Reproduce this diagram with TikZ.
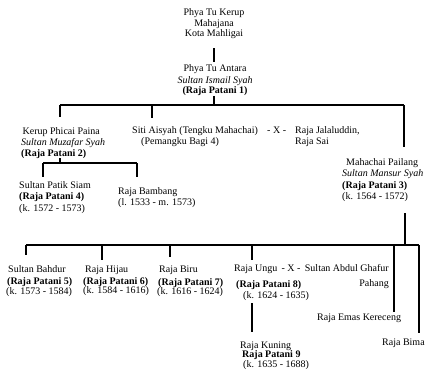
\documentclass[tikz,border=0pt]{standalone}
\usepackage{fontspec}
\setmainfont{Liberation Serif}
\usepackage{tikz}
\pgfdeclarelayer{nodelayer}
\pgfdeclarelayer{edgelayer}
\pgfsetlayers{edgelayer,nodelayer,main}
\tikzstyle{person}=[inner sep=0pt, align=left, anchor=north west]
\tikzstyle{person centre}=[inner sep=0pt, align=center, anchor=north]
\tikzstyle{descent edge}=[draw=black, line width=1.1pt]
\begin{document}
\begin{tikzpicture}[x=1pt, y=-1pt, font=\fontsize{10}{10.5}\selectfont]
	\useasboundingbox (0,0) rectangle (428,373);
	\begin{pgfonlayer}{nodelayer}
		\node [style=person centre] (kerup) at (214, 8.5) {Phya Tu Kerup\\Mahajana\\Kota Mahligai};
		\node [style=person centre] (antara) at (215, 64.5) {Phya Tu Antara\\[1pt]\textit{Sultan Ismail Syah}\\\textbf{(Raja Patani 1)}};
		\node [style=person] (phicai) at (21, 127.5) {\hspace{1.5pt}Kerup Phicai Paina\\\textit{Sultan Muzafar Syah}\\[0.5pt]\textbf{(Raja Patani 2)}};
		\node [style=person] (aisyah) at (132, 126.5) {Siti Aisyah (Tengku Mahachai)\\\hspace{9pt}(Pemangku Bagi 4)};
		\node [style=person] (xone) at (267, 126.5) {- X -};
		\node [style=person] (jalal) at (295, 126.5) {Raja Jalaluddin,\\Raja Sai};
		\node [style=person] (mansur) at (342, 158.5) {\hspace{4pt}Mahachai Pailang\\\textit{Sultan Mansur Syah}\\[2pt]\textbf{(Raja Patani 3)}\\(k. 1564 - 1572)};
		\node [style=person] (patik) at (19, 181.5) {Sultan Patik Siam\\\textbf{(Raja Patani 4)}\\[1.5pt](k. 1572 - 1573)};
		\node [style=person] (bambang) at (118, 187.5) {Raja Bambang\\(l. 1533 - m. 1573)};
		\node [style=person] (bahdur) at (6, 265.5) {\hspace{2pt}Sultan Bahdur\\[1.5pt]\hspace{1pt}\textbf{(Raja Patani 5)}\\[-1pt](k. 1573 - 1584)};
		\node [style=person] (hijau) at (83, 265.5) {\hspace{2pt}Raja Hijau\\[1.5pt]\textbf{(Raja Patani 6)}\\[-1pt](k. 1584 - 1616)};
		\node [style=person] (biru) at (157, 265.5) {\hspace{2pt}Raja Biru\\[2.5pt]\hspace{1pt}\textbf{(Raja Patani 7)}\\[-1pt](k. 1616 - 1624)};
		\node [style=person] (ungu) at (234, 264.5) {Raja Ungu\\[5.5pt]\hspace{2pt}\textbf{(Raja Patani 8)}\\[0.5pt]\hspace{9pt}(k. 1624 - 1635)};
		\node [style=person centre] (xtwo) at (291, 264.5) {- X -};
		\node [style=person, align=right, anchor=north east] (ghafur) at (389, 264.5) {Sultan Abdul Ghafur\\[4.5pt]Pahang};
		\node [style=person] (kuning) at (240, 341.5) {Raja Kuning\\[-1pt]\hspace{2pt}\textbf{Raja Patani 9}\\[-1pt]\hspace{3pt}(k. 1635 - 1688)};
		\node [style=person] (emas) at (317, 313.5) {Raja Emas Kereceng};
		\node [style=person] (bima) at (382, 338.5) {Raja Bima};
	\end{pgfonlayer}
	\begin{pgfonlayer}{edgelayer}
		% junctions of the branch lines
		\coordinate (top) at (214, 105);
		\coordinate (b1l) at (60, 105);
		\coordinate (b1m) at (152, 105);
		\coordinate (b1r) at (404, 105);
		\coordinate (p2) at (60, 163);
		\coordinate (p2l) at (43, 163);
		\coordinate (p2r) at (137, 163);
		\coordinate (p3) at (405, 245);
		\coordinate (d5) at (26, 245);
		\coordinate (d6) at (102, 245);
		\coordinate (d7) at (170, 245);
		\coordinate (d8) at (252, 245);
		\coordinate (de) at (394, 245);
		\coordinate (db) at (419, 245);
		\draw [style=descent edge, shorten <=9.3pt, shorten >=2.5pt] (kerup.south) to (kerup.south |- antara.north);
		\draw [style=descent edge] (top |- antara.south) to (top);
		\draw [style=descent edge] (b1l) to (b1r);
		\draw [style=descent edge, shorten >=10.5pt] (b1l) to (b1l |- phicai.north);
		\draw [style=descent edge, shorten >=8.5pt] (b1m) to (b1m |- aisyah.north);
		\draw [style=descent edge, shorten >=11.5pt] (b1r) to (b1r |- mansur.north);
		\draw [style=descent edge] (p2 |- phicai.south) to (p2);
		\draw [style=descent edge] (p2l) to (p2r);
		\draw [style=descent edge, shorten >=4.5pt] (p2l) to (p2l |- patik.north);
		\draw [style=descent edge, shorten >=10.5pt] (p2r) to (p2r |- bambang.north);
		\draw [style=descent edge, shorten <=11.7pt] (p3 |- mansur.south) to (p3);
		\draw [style=descent edge] (d5) to (db);
		\draw [style=descent edge, shorten >=10.5pt] (d5) to (d5 |- bahdur.north);
		\draw [style=descent edge, shorten >=5.5pt] (d6) to (d6 |- hijau.north);
		\draw [style=descent edge, shorten >=8.5pt] (d7) to (d7 |- biru.north);
		\draw [style=descent edge, shorten >=4.5pt] (d8) to (d8 |- ungu.north);
		\draw [style=descent edge, shorten >=1.5pt] (de) to (de |- emas.north);
		\draw [style=descent edge, shorten >=5.5pt] (db) to (db |- bima.north);
		\draw [style=descent edge, shorten <=2.7pt, shorten >=9.5pt] (d8 |- ungu.south) to (d8 |- kuning.north);
	\end{pgfonlayer}
\end{tikzpicture}
\end{document}
